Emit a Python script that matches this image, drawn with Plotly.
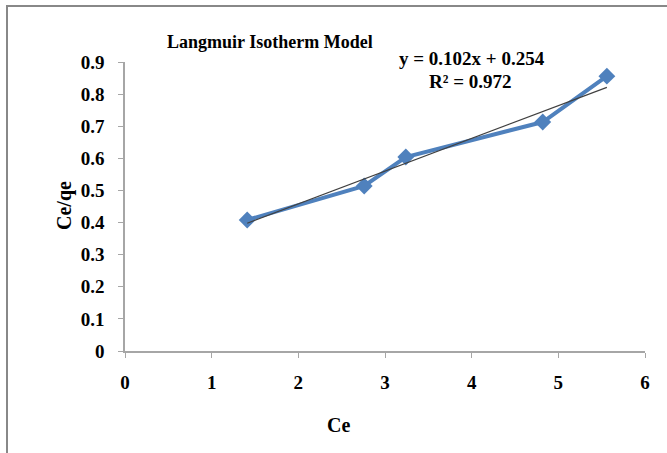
import plotly.graph_objects as go

# Data
ce = [1.41, 2.76, 3.24, 4.82, 5.56]
ce_qe = [0.408, 0.514, 0.604, 0.713, 0.856]
slope = 0.102
intercept = 0.254
r2 = 0.972
x_ticks = [0, 1, 2, 3, 4, 5, 6]
y_ticks = [0, 0.1, 0.2, 0.3, 0.4, 0.5, 0.6, 0.7, 0.8, 0.9]

W, H = 667, 453
L, R, T, B = 125, 22, 62, 102
pw, ph = W - L - R, H - T - B

def px(xp):
    return (xp - L) / pw

def py(yp):
    return 1 - (yp - T) / ph

font = "Liberation Serif"

trend_x = [min(ce), max(ce)]
trend_y = [slope * v + intercept for v in trend_x]

fig = go.Figure()
fig.add_trace(go.Scatter(
    x=ce, y=ce_qe, mode="lines+markers",
    line=dict(color="#4F81BD", width=4),
    marker=dict(symbol="diamond", size=13, color="#4F81BD"),
    showlegend=False, cliponaxis=False,
))
fig.add_trace(go.Scatter(
    x=trend_x, y=trend_y, mode="lines",
    line=dict(color="#404040", width=1.2),
    showlegend=False,
))

axis_common = dict(
    showgrid=False, zeroline=False, showline=True, linecolor="#A6A6A6", linewidth=1.5,
    ticks="outside", ticklen=5, tickcolor="#A6A6A6", tickwidth=1,
    tickfont=dict(family=font, size=19, color="black", weight="bold"),
)

fig.update_xaxes(range=[0, 6], tickvals=x_ticks, ticktext=[str(v) for v in x_ticks],
                 **axis_common)
fig.update_yaxes(range=[0, 0.9], tickvals=y_ticks,
                 ticktext=["0" if v == 0 else f"{v:.1f}" for v in y_ticks],
                 **axis_common)
fig.update_xaxes(ticklabelstandoff=8)
fig.update_yaxes(ticklabelstandoff=10)

annots = [
    dict(x=px(270), y=py(42), text="<b>Langmuir Isotherm Model</b>", size=18),
    dict(x=px(472), y=py(58), text=f"<b>y = {slope}x + {intercept}</b>", size=19),
    dict(x=px(470), y=py(82), text=f"<b>R² = {r2}</b>", size=19),
    dict(x=px(338), y=py(425), text="<b>Ce</b>", size=20),
]
ann_list = [dict(xref="paper", yref="paper", x=a["x"], y=a["y"], text=a["text"],
                 showarrow=False, xanchor="center", yanchor="middle",
                 font=dict(family=font, size=a["size"], color="black")) for a in annots]
ann_list.append(dict(xref="paper", yref="paper", x=px(64), y=py(206), text="<b>Ce/qe</b>",
                     showarrow=False, textangle=-90, xanchor="center", yanchor="middle",
                     font=dict(family=font, size=20, color="black")))

fig.update_layout(
    width=W, height=H,
    margin=dict(l=L, r=R, t=T, b=B),
    paper_bgcolor="white", plot_bgcolor="white",
    annotations=ann_list,
    shapes=[dict(type="rect", xref="paper", yref="paper",
                 x0=px(7), x1=px(690), y0=py(480), y1=py(6),
                 line=dict(color="#888888", width=2), layer="below")],
)

fig.write_html("out.html")
